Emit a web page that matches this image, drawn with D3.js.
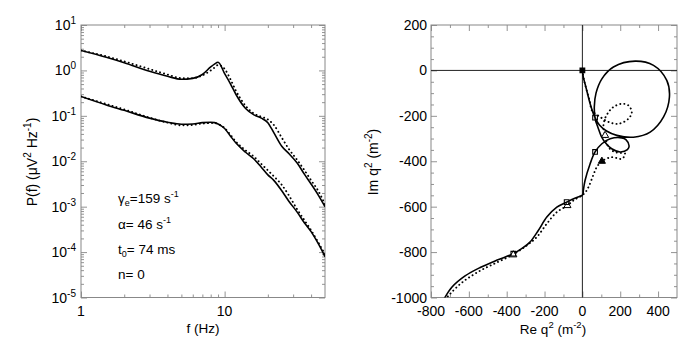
<!DOCTYPE html>
<html><head><meta charset="utf-8">
<script src="https://cdn.jsdelivr.net/npm/d3@7"></script>
<style>
body{margin:0;background:#fff;}
svg text{font-family:"Liberation Sans",Arial,Helvetica,sans-serif;fill:#000;}
</style></head>
<body><svg id="c" width="700" height="349"></svg>
<script>
// ---- Left panel data: power spectra ----
const freq = [1,1.5,2,3,4,5,6,7,8,8.5,9,10,11,12,14,16,18,20,22,25,28,32,36,40,45,50];
const upperModel = [2.75,1.95,1.48,0.955,0.741,0.638,0.668,0.813,1.19,1.38,1.51,0.851,0.501,0.295,0.145,0.105,0.0891,0.0708,0.0427,0.0214,0.0148,0.00912,0.00513,0.00316,0.00178,0.001];
const upperData  = [2.75,2.04,1.58,1.07,0.813,0.676,0.676,0.776,1.0,1.15,1.32,1.08,0.63,0.355,0.166,0.112,0.0955,0.0832,0.0631,0.0331,0.0186,0.0107,0.00631,0.0038,0.00219,0.00112];
const lowerModel = [0.267,0.174,0.132,0.0891,0.0724,0.0653,0.0661,0.0708,0.0724,0.0708,0.0661,0.0525,0.0355,0.0251,0.0158,0.0112,0.00741,0.00501,0.0038,0.00224,0.00132,0.000759,0.000437,0.000282,0.000151,0.0000794];
const lowerData  = [0.267,0.182,0.138,0.0912,0.0708,0.0617,0.0631,0.0676,0.0692,0.0692,0.0661,0.0537,0.038,0.0269,0.0174,0.0126,0.00871,0.00631,0.00468,0.00302,0.00178,0.000871,0.000501,0.000302,0.000162,0.0000891];
const yDecades = [1e-5,1e-4,1e-3,1e-2,1e-1,1e0,1e1];
const yExponents = ["-5","-4","-3","-2","-1","0","1"];
const xMajorF = [1,10];
const annotation = [
  {main:"γ", sub:"e", rest:"=159 s", sup:"-1"},
  {main:"α= 46 s", sub:"", rest:"", sup:"-1"},
  {main:"t", sub:"0", rest:"= 74 ms", sup:""},
  {main:"n= 0", sub:"", rest:"", sup:""}
];
// ---- Right panel data: q^2 trajectories ----
const solidRe = [0,5,14,28,41,58,67,90,130,182,270,358,429,460,446,376,279,164,103,72,63,68,82,100,125,155,200,238,247,230,208,147,103,67,41,14,5,3,-3,-40,-83,-135,-188,-233,-277,-321,-365,-450,-540,-620,-690,-740];
const solidIm = [0,-30,-59,-105,-147,-191,-208,-240,-268,-286,-294,-272,-205,-117,-44,22,41,15,-37,-100,-160,-215,-250,-290,-322,-345,-359,-349,-333,-305,-297,-301,-323,-359,-411,-485,-529,-545,-551,-563,-580,-602,-646,-705,-756,-785,-807,-835,-868,-905,-955,-1020];
const dotRe = [0,8,23,40,50,94,138,191,243,261,243,208,164,138,118,111,120,138,173,226,208,155,103,76,58,32,9,-48,-79,-135,-188,-241,-294,-365,-450,-540,-630,-700,-740];
const dotIm = [0,-40,-88,-140,-176,-205,-227,-235,-213,-184,-154,-147,-161,-184,-215,-250,-286,-338,-360,-367,-389,-382,-400,-426,-460,-514,-543,-573,-595,-624,-675,-734,-771,-810,-845,-882,-930,-985,-1025];
const squareRe = [67,67,-83,-365];
const squareIm = [-208,-359,-580,-807];
const triRe = [120,-79,-365];
const triIm = [-286,-595,-812];
const triFilledRe = [103];
const triFilledIm = [-400];
const reTicks = [-800,-600,-400,-200,0,200,400];
const imTicks = [200,0,-200,-400,-600,-800,-1000];

const svg = d3.select("#c");
const FS = 14;

// ================= LEFT PANEL =================
const L = {x0:81, x1:325, y0:25, y1:297.5};
const xL = d3.scaleLog().domain([1,50]).range([L.x0,L.x1]);
const yL = d3.scaleLog().domain([1e-5,10]).range([L.y1,L.y0]);
const gL = svg.append("g");
svg.append("clipPath").attr("id","clipL").append("rect")
  .attr("x",L.x0).attr("y",L.y0).attr("width",L.x1-L.x0).attr("height",L.y1-L.y0);

const xMinorF = [];
[1,10].forEach(d=>{for(let k=2;k<=9;k++){const v=d*k; if(v<50) xMinorF.push(v);}});
const yMinor = [];
yDecades.slice(0,-1).forEach(d=>{for(let k=2;k<=9;k++) yMinor.push(d*k);});

function addAxes(g, xs, ys, xMaj, xMin, yMaj, yMin, box){
  const tk = (ax, vals, size)=>ax.tickValues(vals).tickSize(-size).tickFormat("").tickSizeOuter(0);
  const mk = (axisFn, scale, vals, size, tr)=>{
    const a = g.append("g").attr("transform",tr).call(tk(axisFn(scale), vals, size));
    a.select(".domain").remove();
    a.selectAll("line").attr("stroke","#777").attr("stroke-width",0.8);
  };
  [[xMaj,6],[xMin,3]].forEach(([v,s])=>{
    mk(d3.axisBottom, xs, v, s, `translate(0,${box.y1})`);
    mk(d3.axisTop, xs, v, s, `translate(0,${box.y0})`);
  });
  [[yMaj,6],[yMin,3]].forEach(([v,s])=>{
    mk(d3.axisLeft, ys, v, s, `translate(${box.x0},0)`);
    mk(d3.axisRight, ys, v, s, `translate(${box.x1},0)`);
  });
  g.append("rect").attr("x",box.x0).attr("y",box.y0).attr("width",box.x1-box.x0).attr("height",box.y1-box.y0)
    .attr("fill","none").attr("stroke","#888").attr("stroke-width",1);
}
addAxes(gL, xL, yL, xMajorF, xMinorF, yDecades, yMinor, L);

yDecades.forEach((d,i)=>{
  const t = gL.append("text").attr("x",L.x0-5).attr("y",yL(d)+5).attr("text-anchor","end").attr("font-size",FS);
  t.append("tspan").text("10");
  t.append("tspan").attr("font-size",10).attr("dy",-6).text(yExponents[i]);
});
xMajorF.forEach(d=>{
  gL.append("text").attr("x",xL(d)).attr("y",316).attr("text-anchor","middle").attr("font-size",FS).text(d3.format("d")(d));
});
gL.append("text").attr("x",203).attr("y",333).attr("text-anchor","middle").attr("font-size",13.5).text("f (Hz)");
const ylab = gL.append("text").attr("transform","translate(37,162) rotate(-90)").attr("text-anchor","middle").attr("font-size",FS);
ylab.append("tspan").text("P(f) (μV");
ylab.append("tspan").attr("font-size",10).attr("dy",-6).text("2");
ylab.append("tspan").attr("dy",6).text(" Hz");
ylab.append("tspan").attr("font-size",10).attr("dy",-6).text("-1");
ylab.append("tspan").attr("dy",6).text(")");

const lineL = d3.line().x((d,i)=>xL(freq[i])).y(d=>yL(d)).curve(d3.curveMonotoneX);
const curvesL = gL.append("g").attr("clip-path","url(#clipL)");
[[upperModel,false],[lowerModel,false],[upperData,true],[lowerData,true]].forEach(([s,dot])=>{
  curvesL.append("path").attr("d",lineL(s)).attr("fill","none").attr("stroke","#000")
    .attr("stroke-width",dot?1.9:1.6)
    .attr("stroke-dasharray",dot?"0.1,4":null).attr("stroke-linecap",dot?"round":"butt");
});

const annY = [203,229,254,279];
annotation.forEach((a,i)=>{
  const t = gL.append("text").attr("x",118).attr("y",annY[i]).attr("font-size",13.5);
  t.append("tspan").text(a.main);
  if(a.sub){ t.append("tspan").attr("font-size",9).attr("dy",3).text(a.sub); t.append("tspan").attr("dy",-3).text(a.rest);}
  if(a.sup){ t.append("tspan").attr("font-size",9).attr("dy",-6).text(a.sup);}
});

// ================= RIGHT PANEL =================
const R = {x0:431, x1:677, y0:25, y1:297.5};
const xR = d3.scaleLinear().domain([-800,500]).range([R.x0,R.x1]);
const yR = d3.scaleLinear().domain([-1000,200]).range([R.y1,R.y0]);
const gR = svg.append("g");
svg.append("clipPath").attr("id","clipR").append("rect")
  .attr("x",R.x0).attr("y",R.y0).attr("width",R.x1-R.x0).attr("height",R.y1-R.y0);
const reMinor = d3.range(-700,500,200);
const imMinor = d3.range(-950,200,50).filter(v=>v%200!==0);
addAxes(gR, xR, yR, reTicks, reMinor, imTicks, imMinor, R);
gR.append("line").attr("x1",xR(0)).attr("x2",xR(0)).attr("y1",R.y0).attr("y2",R.y1).attr("stroke","#222").attr("stroke-width",1);
gR.append("line").attr("x1",R.x0).attr("x2",R.x1).attr("y1",yR(0)).attr("y2",yR(0)).attr("stroke","#222").attr("stroke-width",1);

imTicks.forEach(d=>{
  gR.append("text").attr("x",R.x0-4).attr("y",yR(d)+5).attr("text-anchor","end").attr("font-size",FS).text(d);
});
reTicks.forEach(d=>{
  gR.append("text").attr("x",xR(d)).attr("y",316).attr("text-anchor","middle").attr("font-size",FS).text(d);
});
const xlabR = gR.append("text").attr("x",553).attr("y",334).attr("text-anchor","middle").attr("font-size",13.5);
xlabR.append("tspan").text("Re q");
xlabR.append("tspan").attr("font-size",9.5).attr("dy",-6).text("2");
xlabR.append("tspan").attr("dy",6).text(" (m");
xlabR.append("tspan").attr("font-size",9.5).attr("dy",-6).text("-2");
xlabR.append("tspan").attr("dy",6).text(")");
const ylabR = gR.append("text").attr("transform","translate(378,162) rotate(-90)").attr("text-anchor","middle").attr("font-size",FS);
ylabR.append("tspan").text("Im q");
ylabR.append("tspan").attr("font-size",10).attr("dy",-6).text("2");
ylabR.append("tspan").attr("dy",6).text(" (m");
ylabR.append("tspan").attr("font-size",10).attr("dy",-6).text("-2");
ylabR.append("tspan").attr("dy",6).text(")");

const cR = gR.append("g").attr("clip-path","url(#clipR)");
const lineR = d3.line().curve(d3.curveCatmullRom.alpha(0.5));
cR.append("path").attr("d",lineR(solidRe.map((r,i)=>[xR(r),yR(solidIm[i])])))
  .attr("fill","none").attr("stroke","#000").attr("stroke-width",1.6);
cR.append("path").attr("d",lineR(dotRe.map((r,i)=>[xR(r),yR(dotIm[i])])))
  .attr("fill","none").attr("stroke","#000").attr("stroke-width",1.9).attr("stroke-dasharray","0.1,4").attr("stroke-linecap","round");

const sym = (type,size)=>d3.symbol().type(type).size(size)();
triRe.forEach((r,i)=>{
  cR.append("path").attr("d",sym(d3.symbolTriangle,22)).attr("transform",`translate(${xR(r)},${yR(triIm[i])})`)
    .attr("fill","#fff").attr("stroke","#000").attr("stroke-width",1);
});
triFilledRe.forEach((r,i)=>{
  cR.append("path").attr("d",sym(d3.symbolTriangle,22)).attr("transform",`translate(${xR(r)},${yR(triFilledIm[i])})`)
    .attr("fill","#000").attr("stroke","#000").attr("stroke-width",1);
});
squareRe.forEach((r,i)=>{
  cR.append("path").attr("d",sym(d3.symbolSquare,22)).attr("transform",`translate(${xR(r)},${yR(squareIm[i])})`)
    .attr("fill","none").attr("stroke","#000").attr("stroke-width",1.1);
});
cR.append("path").attr("d",sym(d3.symbolSquare,34)).attr("transform",`translate(${xR(0)},${yR(0)})`).attr("fill","#000");
</script></body></html>
